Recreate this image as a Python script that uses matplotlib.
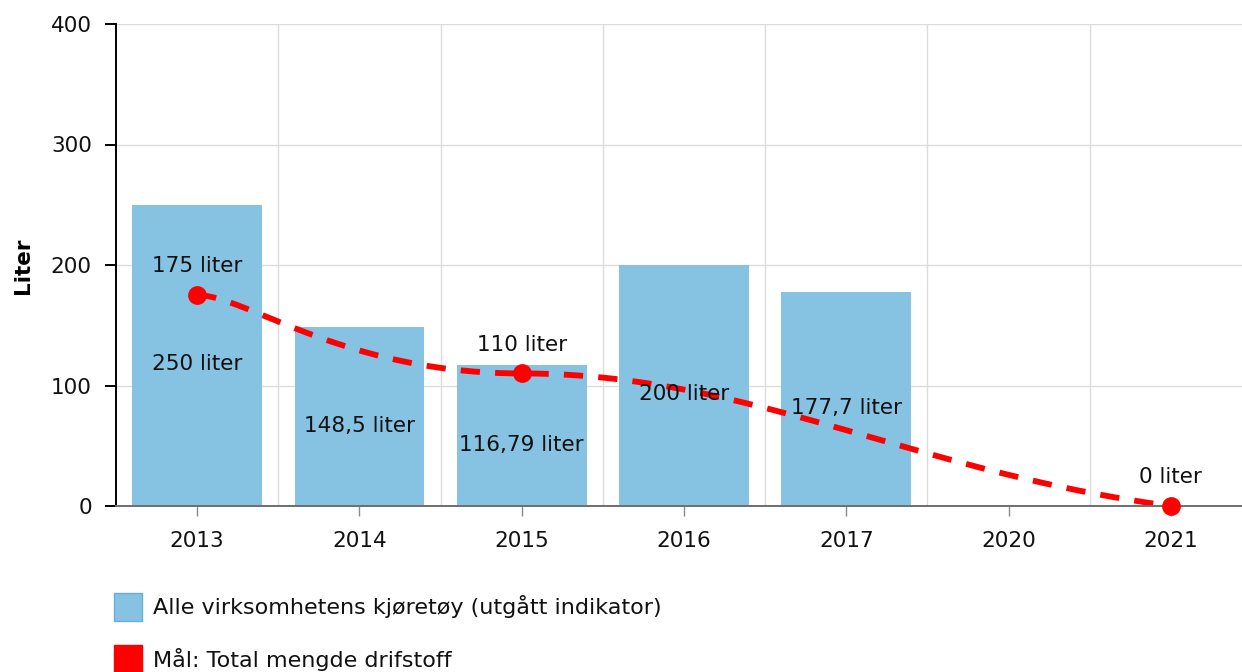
import numpy as np
import matplotlib
matplotlib.use("Agg")
import matplotlib.pyplot as plt
from matplotlib.patches import Rectangle
from matplotlib.transforms import IdentityTransform

# ---------------- data ----------------
categories = ["2013", "2014", "2015", "2016", "2017", "2020", "2021"]
bar_years = ["2013", "2014", "2015", "2016", "2017"]
bar_values = [250, 148.5, 116.79, 200, 177.7]
bar_labels = ["250 liter", "148,5 liter", "116,79 liter", "200 liter", "177,7 liter"]
target_years = ["2013", "2015", "2021"]
target_values = [175, 110, 0]
target_labels = ["175 liter", "110 liter", "0 liter"]
y_ticks = [0, 100, 200, 300, 400]
series_names = ["Alle virksomhetens kjøretøy (utgått indikator)",
                "Mål: Total mengde drifstoff"]
y_title = "Liter"

# ---------------- style ----------------
BAR_COLOR = "#86c3e2"
RED = "#ff0000"
FS = 15.5
# smoothing style of the dashed curve: (incoming handle, outgoing handle) as
# fraction of the neighbouring segment width, and tangent slope per category
HANDLES = [(0.0, 0.15), (0.55, 0.35), (0.4, 0.0)]
TANGENTS = [0.0, 0.0, -18.0]

plt.rcParams['font.family'] = ['DejaVu Sans']


def smooth_curve(xs, ys, handles, tangents, n=300):
    """Piecewise cubic Bezier through the points with the given handle style."""
    out_x, out_y = [xs[0]], [ys[0]]
    t = np.linspace(0, 1, n)[1:]
    for i in range(1, len(xs)):
        x0, y0, x3, y3 = xs[i - 1], ys[i - 1], xs[i], ys[i]
        dx = x3 - x0
        h0 = handles[i - 1][1] * dx
        h1 = handles[i][0] * dx
        x1, y1 = x0 + h0, y0 + tangents[i - 1] * h0
        x2, y2 = x3 - h1, y3 - tangents[i] * h1
        bx = (1 - t) ** 3 * x0 + 3 * (1 - t) ** 2 * t * x1 + 3 * (1 - t) * t ** 2 * x2 + t ** 3 * x3
        by = (1 - t) ** 3 * y0 + 3 * (1 - t) ** 2 * t * y1 + 3 * (1 - t) * t ** 2 * y2 + t ** 3 * y3
        out_x.extend(bx)
        out_y.extend(by)
    return np.array(out_x), np.array(out_y)


W, H = 1242, 672
fig = plt.figure(figsize=(W / 100, H / 100), dpi=100)
# plot area: left 116 px, right beyond the image edge, top 24 px, bottom 506 px
ax = fig.add_axes([116 / W, (H - 506) / H, 1136 / W, 482 / H])

xpos = {c: i for i, c in enumerate(categories)}
bx = [xpos[y] for y in bar_years]
tx = [xpos[y] for y in target_years]

ax.set_xlim(-0.5, len(categories) - 0.5)
ax.set_ylim(0, 400)

# grid
for yv in y_ticks[1:]:
    ax.axhline(yv, color="#dcdcdc", lw=1.0, zorder=0)
for k in range(len(categories) - 1):
    ax.axvline(k + 0.5, color="#dcdcdc", lw=1.0, zorder=0)

# bars
ax.bar(bx, bar_values, width=0.8, color=BAR_COLOR, zorder=2)

# target line (smooth, dashed)
sx, sy = smooth_curve(tx, target_values, HANDLES, TANGENTS)
ax.plot(sx, sy, color=RED, lw=4.2, linestyle=(0, (3.3, 2.6)),
        dash_capstyle='butt', zorder=3, clip_on=False)
ax.plot(tx, target_values, 'o', color=RED, ms=12.5, zorder=4, clip_on=False)

# labels
for x, v, lab in zip(bx, bar_values, bar_labels):
    ax.annotate(lab, (x, v / 2), xytext=(0, -10.8), textcoords='offset points',
                ha='center', va='baseline', fontsize=FS, color='#111111', zorder=5)
for x, v, lab in zip(tx, target_values, target_labels):
    ax.annotate(lab, (x, v), xytext=(0, 16.5), textcoords='offset points',
                ha='center', va='baseline', fontsize=FS, color='#111111', zorder=5)

# axes styling
for s in ['top', 'right']:
    ax.spines[s].set_visible(False)
ax.spines['left'].set_color('#000000')
ax.spines['left'].set_linewidth(1.4)
ax.spines['bottom'].set_color('#6e6e6e')
ax.spines['bottom'].set_linewidth(1.4)
ax.spines['bottom'].set_zorder(3.5)

ax.set_yticks(y_ticks)
ax.set_yticklabels([str(v) for v in y_ticks])
ax.set_xticks(range(len(categories)))
ax.set_xticklabels(categories)
ax.tick_params(axis='y', length=8, width=1.4, color='#000000', pad=9.4,
               labelsize=FS, labelcolor='#111111')
ax.tick_params(axis='x', length=7, width=1.0, color='#8a8a8a', pad=11,
               labelsize=FS, labelcolor='#111111')

fig.text(23, H - 266, y_title, transform=IdentityTransform(), rotation=90,
         ha='center', va='center', fontsize=FS, fontweight='bold', color='#000000')

# legend (manual, stacked at bottom-left)
legend_colors = [BAR_COLOR, RED]
legend_edges = ["#6aaed6", RED]
legend_rows = [621, 673]   # bottom edge of square (pixels from top)
text_base = [614, 667]
for col, ec, nm, rb, tb in zip(legend_colors, legend_edges, series_names, legend_rows, text_base):
    fig.add_artist(Rectangle((114, H - rb), 28, 28, transform=IdentityTransform(),
                             facecolor=col, edgecolor=ec, lw=1.0))
    fig.text(153, H - tb, nm, transform=IdentityTransform(), ha='left', va='baseline',
             fontsize=16, color='#111111')

fig.savefig("out.png", dpi=100)
